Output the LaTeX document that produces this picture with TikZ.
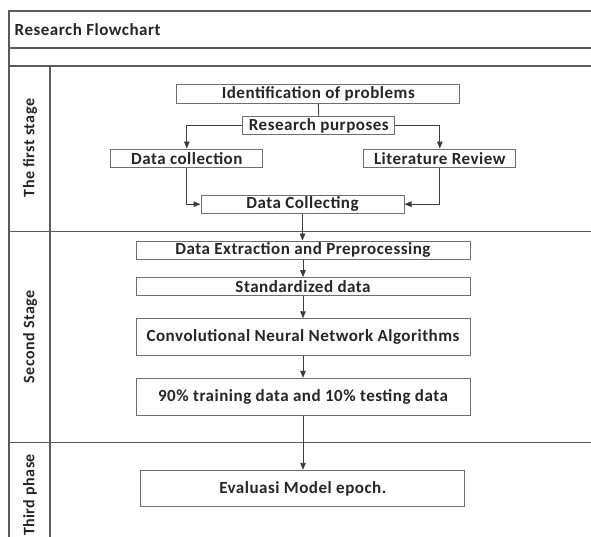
\documentclass[tikz,border=0pt]{standalone}
\usepackage{fontspec}
\setmainfont{Carlito}
\newfontfamily\spacedfont[LetterSpace=3]{Carlito}
\usetikzlibrary{arrows.meta}
\definecolor{framegray}{HTML}{5A5A5A}
\definecolor{boxgray}{HTML}{6E6E6E}
\definecolor{arrowgray}{HTML}{3C3C3C}
\begin{document}
\begin{tikzpicture}[x=1pt,y=-1pt,
  box/.style={draw=boxgray, line width=1pt, inner sep=0pt, font=\spacedfont\bfseries\fontsize{17}{20}\selectfont, text=black!85},
  frameline/.style={draw=framegray, line width=1.3pt},
  arr/.style={draw=arrowgray, line width=0.9pt, -{Triangle[length=7pt,width=5.5pt]}},
  conn/.style={draw=arrowgray, line width=0.9pt},
  stagelbl/.style={font=\spacedfont\bfseries\fontsize{16}{19}\selectfont, rotate=90, inner sep=0pt, text=black!85},
  titlelbl/.style={font=\spacedfont\bfseries\fontsize{17}{20}\selectfont, inner sep=0pt, anchor=west, text=black!85}
]
\useasboundingbox (0,0) rectangle (591,537);
\fill[white] (0,0) rectangle (591,537);

% frame
\draw[frameline] (600,11) -- (9,11) -- (9,540);
\draw[frameline] (9,48) -- (600,48);
\draw[frameline] (9,66) -- (600,66);
\draw[frameline] (9,231.5) -- (600,231.5);
\draw[frameline] (9,442.5) -- (600,442.5);
\draw[frameline] (50,66) -- (50,540);

% labels
\node[titlelbl] (title) at (14.5,29.3) {Research Flowchart};
\node[stagelbl] (s1) at (30,148) {The first stage};
\node[stagelbl] (s2) at (30,337) {Second Stage};
\node[stagelbl] (s3) at (30,495) {Third phase};

% boxes
\node[box, minimum width=283.3pt, minimum height=19pt] (idp) at (318.3,93.8) {Identification of problems};
\node[box, minimum width=152.3pt, minimum height=17.6pt] (rp) at (318.8,125.5) {Research purposes};
\node[box, minimum width=151.7pt, minimum height=18.3pt] (dc) at (186.8,158.2) {Data collection};
\node[box, minimum width=151.7pt, minimum height=18.3pt] (lr) at (439.8,158.2) {Literature Review};
\node[box, minimum width=203pt, minimum height=18.3pt] (dcol) at (302.5,204.2) {Data Collecting};
\node[box, minimum width=334pt, minimum height=18.3pt] (de) at (303,250.2) {Data Extraction and Preprocessing};
\node[box, minimum width=334pt, minimum height=18.3pt] (sd) at (303,286.8) {Standardized data};
\node[box, minimum width=334pt, minimum height=36.3pt] (cnn) at (303,336.9) {Convolutional Neural Network Algorithms};
\node[box, minimum width=334pt, minimum height=36.7pt] (tr) at (303,396.7) {90\% training data and 10\% testing data};
\node[box, minimum width=324.3pt, minimum height=36.4pt] (ev) at (302.8,488.5) {Evaluasi Model epoch.};

% connectors
\draw[conn] (idp.south) -- (rp.north);
\draw[arr] (rp.west) -| (dc.north);
\draw[arr] (rp.east) -| (lr.north);
\draw[arr] (dc.south) |- (dcol.west);
\draw[arr] (lr.south) |- (dcol.east);
\draw[arr] (dcol.south) -- (de.north -| dcol.south);
\draw[arr] (de.south) -- (sd.north);
\draw[arr] (sd.south) -- (cnn.north);
\draw[arr] (cnn.south) -- (tr.north);
\draw[arr] (tr.south) -- (ev.north -| tr.south);
\end{tikzpicture}
\end{document}
